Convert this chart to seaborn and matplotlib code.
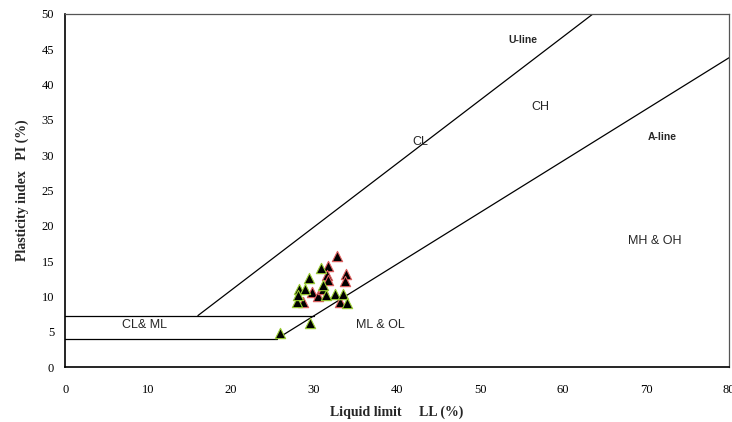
import matplotlib
matplotlib.use("Agg")
import matplotlib.pyplot as plt
import seaborn as sns
import pandas as pd

# data (liquid limit, plasticity index)
ll_green = [30.8, 29.4, 28.2, 28.9, 32.5, 33.5, 31.4, 27.9, 34.0, 28.1, 29.5, 25.9, 31.1]
pi_green = [14.0, 12.6, 11.0, 11.0, 10.4, 10.4, 10.2, 9.25, 9.1, 10.2, 6.2, 4.8, 11.6]
ll_red = [32.7, 31.7, 31.5, 33.9, 31.7, 33.7, 29.7, 30.5, 28.7, 33.1, 31.1]
pi_red = [15.7, 14.3, 13.0, 13.2, 12.3, 12.2, 10.7, 10.1, 9.25, 9.25, 11.0]

# chart boundary lines
u_line_ll = [16.0, 63.6]
u_line_pi = [7.3, 50.0]
a_line_ll = [25.5, 80.0]
a_line_pi = [4.0, 43.8]
upper_band_ll = [0, 30.0]
upper_band_pi = [7.3, 7.3]
lower_band_ll = [0, 25.5]
lower_band_pi = [4.0, 4.0]

zone_labels = ["CL", "CH", "MH & OH", "ML & OL", "CL& ML"]
zone_ll = [42.8, 57.3, 71.0, 38.0, 9.6]
zone_pi = [31.9, 36.8, 17.8, 5.9, 5.9]

sns.set_style("white")

fig, ax = plt.subplots(figsize=(7.32, 4.22), dpi=100)
fig.subplots_adjust(left=0.089, right=0.996, top=0.967, bottom=0.130)

for xs, ys in [(u_line_ll, u_line_pi), (a_line_ll, a_line_pi),
               (upper_band_ll, upper_band_pi), (lower_band_ll, lower_band_pi)]:
    ax.plot(xs, ys, color="black", lw=0.9)

green = pd.DataFrame({"LL": ll_green, "PI": pi_green})
red = pd.DataFrame({"LL": ll_red, "PI": pi_red})
sns.scatterplot(data=red, x="LL", y="PI", marker="^", s=55, color="black",
                edgecolor="#e06060", linewidth=0.8, ax=ax, zorder=3)
sns.scatterplot(data=green, x="LL", y="PI", marker="^", s=55, color="black",
                edgecolor="#9acd32", linewidth=0.8, ax=ax, zorder=3)

for lab, x, y in zip(zone_labels, zone_ll, zone_pi):
    ax.text(x, y, lab, ha="center", va="center", fontsize=9, family="Liberation Sans")
ax.text(55.2, 46.3, "U-line", ha="center", va="center", fontsize=7.5,
        fontweight="bold", family="Liberation Sans")
ax.text(72.0, 32.6, "A-line", ha="center", va="center", fontsize=7.5,
        fontweight="bold", family="Liberation Sans")

ax.set_xlim(0, 80)
ax.set_ylim(0, 50)
ax.set_xticks(range(0, 81, 5))
ax.set_xticklabels([str(v) if v % 10 == 0 else "" for v in range(0, 81, 5)])
ax.set_yticks(range(0, 51, 5))
ax.tick_params(axis="both", direction="out", length=3, width=0.8, colors="black",
               labelsize=9)
ax.tick_params(axis="x", pad=9)
ax.tick_params(axis="y", pad=5)
for lab in ax.get_xticklabels() + ax.get_yticklabels():
    lab.set_family("Liberation Serif")

for side in ["left", "bottom"]:
    ax.spines[side].set_color("black")
    ax.spines[side].set_linewidth(1.2)
for side in ["top", "right"]:
    ax.spines[side].set_color("#555555")
    ax.spines[side].set_linewidth(0.9)

ax.set_xlabel("Liquid limit     LL (%)", fontsize=10, fontweight="bold",
              family="Liberation Serif", labelpad=7)
ax.set_ylabel("Plasticity index   PI (%)", fontsize=10, fontweight="bold",
              family="Liberation Serif", labelpad=9)

fig.savefig("out.png", dpi=100)
